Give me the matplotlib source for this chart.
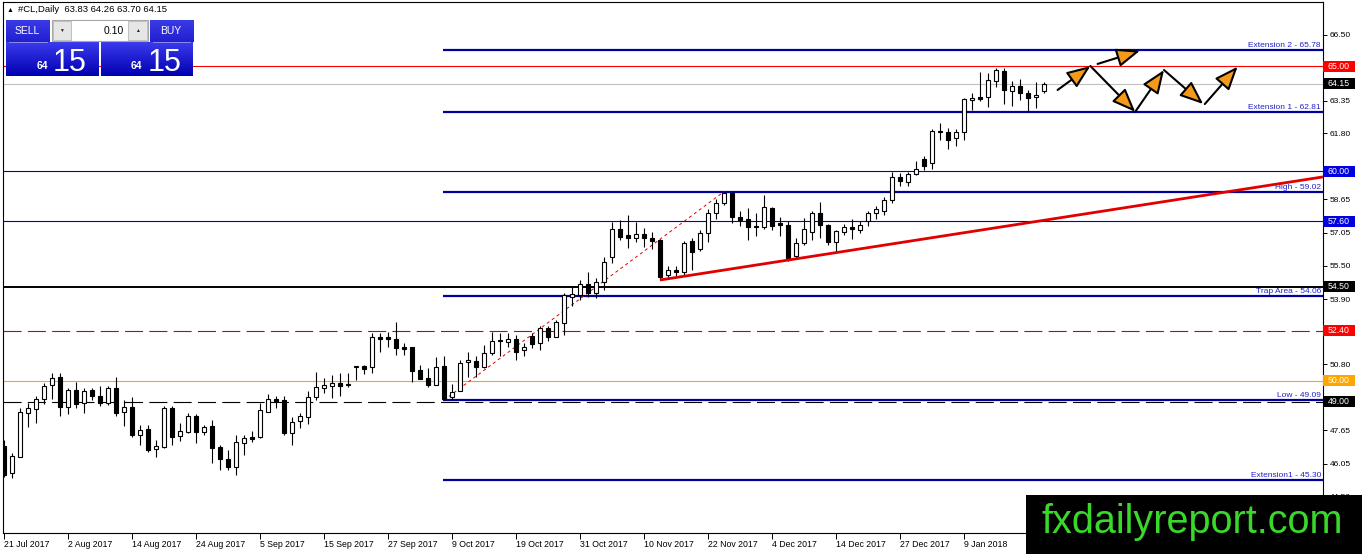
import numpy as np
import matplotlib
matplotlib.use('Agg')
import matplotlib.pyplot as plt
import matplotlib.transforms as mtransforms
from matplotlib.patches import Rectangle, FancyArrowPatch
from matplotlib.colors import LinearSegmentedColormap

plt.rcParams['font.family'] = ['Liberation Sans', 'DejaVu Sans']
plt.rcParams['lines.scale_dashes'] = False

# daily candles for #CL, 21 Jul 2017 .. 17 Jan 2018
opens = [46.90, 45.60, 46.40, 48.48, 48.67, 49.14, 49.81, 50.20, 48.76, 49.57,
         48.95, 49.57, 49.29, 48.95, 49.67, 48.52, 48.76, 47.43, 47.71, 46.76,
         46.86, 48.71, 47.40, 47.59, 48.33, 47.56, 47.86, 46.87, 46.29, 45.92,
         47.03, 47.35, 47.35, 48.54, 49.16, 49.10, 47.54, 48.10, 48.30, 49.25,
         49.65, 49.78, 49.92, 49.85, 50.65, 50.71, 50.65, 52.08, 52.08, 52.00,
         51.64, 51.64, 50.52, 50.13, 49.81, 50.71, 49.22, 49.54, 50.89, 50.97,
         50.68, 51.32, 51.90, 51.86, 52.00, 51.48, 52.14, 51.83, 52.51, 52.11,
         52.75, 54.02, 54.10, 54.60, 54.21, 54.70, 55.92, 57.22, 56.95, 56.80,
         57.00, 56.83, 56.71, 55.05, 55.29, 55.20, 56.68, 56.29, 57.06, 58.00,
         58.46, 58.97, 57.80, 57.70, 57.33, 57.35, 58.22, 57.51, 57.43, 55.95,
         56.59, 57.11, 57.98, 57.43, 56.63, 57.11, 57.32, 57.19, 57.63, 57.98,
         58.10, 58.60, 59.73, 59.46, 59.86, 60.56, 60.37, 61.85, 61.84, 61.56,
         61.84, 63.38, 63.52, 63.51, 64.30, 64.76, 63.83, 64.05, 63.70, 63.51,
         63.83]
highs = [47.19, 46.57, 48.71, 48.95, 49.30, 49.90, 50.38, 50.38, 49.67, 49.97,
         49.67, 49.67, 49.76, 49.75, 50.20, 49.10, 49.24, 47.90, 47.90, 47.20,
         48.80, 48.80, 48.00, 48.47, 48.43, 47.90, 48.14, 46.95, 46.71, 47.43,
         47.43, 47.60, 48.94, 49.38, 49.30, 49.29, 48.29, 48.48, 49.50, 50.44,
         50.16, 50.30, 50.40, 50.40, 50.72, 50.76, 52.27, 52.27, 52.35, 52.82,
         51.80, 51.64, 50.75, 50.60, 51.16, 51.20, 49.85, 51.00, 51.40, 51.20,
         51.71, 52.35, 52.30, 52.30, 52.20, 51.80, 52.30, 52.60, 52.60, 52.90,
         54.20, 54.46, 54.81, 55.20, 54.90, 55.90, 57.59, 57.65, 57.90, 57.55,
         57.30, 57.10, 56.75, 55.50, 55.50, 56.65, 56.80, 57.20, 58.20, 58.65,
         59.02, 59.02, 58.10, 58.25, 58.00, 58.86, 58.27, 57.80, 57.60, 56.80,
         57.75, 58.10, 58.54, 57.50, 57.20, 57.50, 57.70, 57.60, 58.10, 58.35,
         58.75, 59.97, 59.90, 59.97, 60.48, 60.70, 62.00, 62.30, 62.06, 62.00,
         63.50, 63.70, 64.73, 64.65, 64.89, 64.90, 64.30, 64.40, 63.85, 64.25,
         64.26]
lows = [45.44, 45.38, 46.40, 47.81, 48.00, 48.90, 49.14, 48.33, 48.43, 48.70,
        48.48, 49.10, 48.81, 48.85, 48.33, 47.86, 47.33, 46.95, 46.60, 46.40,
        46.80, 46.95, 47.16, 47.50, 47.03, 47.45, 46.11, 45.76, 45.76, 45.52,
        46.48, 47.10, 47.30, 48.50, 48.70, 47.45, 46.95, 47.76, 47.95, 49.10,
        49.43, 49.20, 49.30, 49.70, 50.05, 50.33, 50.37, 51.40, 51.60, 51.24,
        51.24, 49.97, 50.10, 49.70, 49.81, 49.09, 49.10, 49.54, 50.20, 50.20,
        50.60, 51.25, 51.20, 51.60, 51.00, 51.20, 51.55, 51.48, 51.90, 52.10,
        52.19, 53.57, 53.86, 54.00, 53.95, 54.33, 55.60, 56.70, 56.32, 56.60,
        56.40, 56.30, 54.81, 54.90, 55.00, 55.05, 55.29, 56.20, 56.60, 57.70,
        58.40, 57.51, 57.40, 56.71, 56.90, 57.24, 57.20, 56.90, 55.70, 55.80,
        56.50, 56.70, 56.80, 56.50, 56.08, 56.95, 56.75, 57.05, 57.40, 57.70,
        57.90, 58.50, 59.30, 59.30, 59.80, 60.05, 60.10, 61.50, 61.05, 61.20,
        61.50, 62.90, 63.35, 63.06, 64.00, 63.20, 63.10, 63.40, 62.86, 63.00,
        63.70]
closes = [45.52, 46.44, 48.54, 48.71, 49.14, 49.76, 50.14, 48.75, 49.57, 48.90,
          49.52, 49.29, 48.95, 49.67, 48.48, 48.76, 47.43, 47.67, 46.71, 46.90,
          48.71, 47.33, 47.62, 48.33, 47.59, 47.83, 46.80, 46.27, 45.92, 47.08,
          47.30, 47.25, 48.62, 49.13, 49.06, 47.51, 48.06, 48.33, 49.25, 49.70,
          49.80, 49.92, 49.78, 49.80, 50.70, 50.57, 52.08, 52.00, 52.00, 51.56,
          51.52, 50.49, 50.10, 49.81, 50.68, 49.13, 49.49, 50.87, 51.00, 50.68,
          51.35, 51.90, 51.95, 52.00, 51.40, 51.64, 51.76, 52.54, 52.11, 52.79,
          54.10, 54.13, 54.60, 54.20, 54.73, 55.68, 57.22, 56.87, 56.79, 57.00,
          56.83, 56.68, 54.94, 55.29, 55.20, 56.58, 56.16, 57.06, 57.98, 58.50,
          58.97, 57.80, 57.67, 57.35, 57.37, 58.27, 57.40, 57.43, 55.84, 56.56,
          57.22, 57.98, 57.43, 56.63, 57.14, 57.32, 57.24, 57.43, 57.98, 58.17,
          58.60, 59.73, 59.52, 59.86, 60.08, 60.25, 61.90, 61.89, 61.48, 61.84,
          63.41, 63.49, 63.43, 64.33, 64.81, 63.86, 64.05, 63.70, 63.49, 63.62,
          64.15]

date_labels = ['21 Jul 2017', '2 Aug 2017', '14 Aug 2017', '24 Aug 2017',
               '5 Sep 2017', '15 Sep 2017', '27 Sep 2017', '9 Oct 2017',
               '19 Oct 2017', '31 Oct 2017', '10 Nov 2017', '22 Nov 2017',
               '4 Dec 2017', '14 Dec 2017', '27 Dec 2017', '9 Jan 2018']
bars_per_label = 8

price_ticks = [66.50, 64.95, 63.35, 61.80, 60.20, 58.65, 57.05, 55.50,
               53.90, 52.35, 50.80, 49.20, 47.65, 46.05, 44.50]

# horizontal price levels
level_prices = [65.00, 64.15, 60.00, 57.60, 54.50, 52.40, 50.00, 49.00]
level_line_colors = ['#ff0000', '#c0c0c0', '#0000c8', '#0000c8',
                     '#000000', '#d00000', '#ffa500', '#000000']
level_box_colors = ['#ff0000', '#000000', '#0000e0', '#0000e0',
                    '#000000', '#ff0000', '#ffa500', '#000000']
level_dashed = [False, False, False, False, False, True, False, True]
level_widths = [0.8, 0.8, 0.8, 0.8, 1.4, 0.8, 0.8, 0.8]

# fibonacci levels (start at the swing low bar)
fib_names = ['Extension 2', 'Extension 1', 'High', 'Trap Area', 'Low', 'Extension1']
fib_prices = [65.78, 62.81, 59.02, 54.06, 49.09, 45.30]
fib_start = 55
fib_high_bar = 90

# rising trendline (bar, price)
trend_x = [82, 164.875]
trend_y = [54.81, 59.72]

# projected path arrows (bar, price)
arrow_from = [(131.7, 63.86), (136.7, 65.10), (135.8, 65.00),
              (141.4, 62.82), (145.0, 64.81), (150.1, 63.19)]
arrow_to = [(135.8, 65.00), (142.0, 65.73), (141.4, 62.82),
            (145.0, 64.81), (149.9, 63.19), (154.2, 64.97)]

W, H = 1362, 554
fig = plt.figure(figsize=(W / 100, H / 100), dpi=100)
fig.patch.set_facecolor('white')

ax_l, ax_r, ax_t, ax_b = 3, 1323, 2, 533
ax = fig.add_axes([ax_l / W, (H - ax_b) / H, (ax_r - ax_l) / W, (ax_b - ax_t) / H])
xmax = 164.875
ax.set_xlim(-0.125, xmax)
ax.set_ylim(42.76, 68.05)

# levels
for p, lc, dsh, lw in zip(level_prices, level_line_colors, level_dashed, level_widths):
    if dsh:
        ax.axhline(p, color=lc, lw=lw, dashes=(13, 4.5), zorder=1)
    else:
        ax.axhline(p, color=lc, lw=lw, zorder=1)

# fibo lines
for name, p in zip(fib_names, fib_prices):
    ax.hlines(p, fib_start - 0.1, xmax, color='#00009c', lw=1.6, zorder=2)
    ax.annotate(f'{name} - {p:.2f}', xy=(xmax, p), xytext=(-1.5, 0.5),
                textcoords='offset points', ha='right', va='bottom',
                fontsize=6, color='#2222cc', zorder=2)

# dotted fibo swing line
ax.plot([fib_start, fib_high_bar], [lows[fib_start], highs[fib_high_bar]],
        color='#e00000', lw=0.7, dashes=(2.2, 2.2), zorder=2)

# candles
o = np.array(opens)
h = np.array(highs)
l = np.array(lows)
c = np.array(closes)
x = np.arange(len(o))
up = c >= o
ax.vlines(x, l, h, color='black', lw=0.8, zorder=3)
bottom = np.minimum(o, c)
height = np.maximum(np.abs(c - o), 0.04)
ax.bar(x[up], height[up], bottom=bottom[up], width=0.62, color='white',
       edgecolor='black', lw=0.8, zorder=4)
ax.bar(x[~up], height[~up], bottom=bottom[~up], width=0.62, color='black',
       edgecolor='black', lw=0.8, zorder=4)

# trendline
ax.plot(trend_x, trend_y, color='#e00000', lw=2, zorder=5, solid_capstyle='butt')

# arrows
for a, b in zip(arrow_from, arrow_to):
    arr = FancyArrowPatch(a, b, arrowstyle='-|>,head_length=0.8,head_width=0.32',
                          mutation_scale=18, lw=1.5, edgecolor='black',
                          facecolor='#f39a1a', zorder=6, shrinkA=0, shrinkB=0)
    ax.add_patch(arr)

# axes style
for s in ax.spines.values():
    s.set_color('black')
    s.set_linewidth(0.8)
ax.yaxis.tick_right()
ax.set_yticks(price_ticks)
# labels that sit under a price box are not shown on the terminal
tick_text = []
for v in price_ticks:
    hidden = any(abs(v - p) < 0.3 for p in level_prices)
    tick_text.append('' if hidden else f'{v:.2f}')
ax.set_yticklabels(tick_text)
ax.tick_params(axis='y', direction='out', length=3, width=0.7, pad=2, labelsize=6)
xt = [i * bars_per_label for i in range(len(date_labels))]
ax.set_xticks(xt)
ax.set_xticklabels(date_labels)
ax.tick_params(axis='x', direction='out', length=4, width=0.7, pad=1, labelsize=6.3)
for lab in ax.get_xticklabels():
    lab.set_ha('left')

# price boxes on the right scale
blend = mtransforms.blended_transform_factory(ax.transAxes, ax.transData)
box_w = 32 / (ax_r - ax_l)
box_h = 11 / 21.0
for p, bc in zip(level_prices, level_box_colors):
    ax.add_patch(Rectangle((1.0, p - box_h / 2), box_w, box_h, transform=blend,
                           facecolor=bc, edgecolor='none', clip_on=False, zorder=10))
    ax.text(1.0 + box_w / 2, p, f'{p:.2f}', transform=blend, ha='center',
            va='center', fontsize=6.3, color='white', clip_on=False, zorder=11)

# overlay in pixel coordinates
ov = fig.add_axes([0, 0, 1, 1], zorder=20)
ov.patch.set_alpha(0)
ov.axis('off')

grad = np.linspace(0, 1, 64).reshape(-1, 1)
btn = LinearSegmentedColormap.from_list('btn', ['#3b3bee', '#0000b0'])
top = LinearSegmentedColormap.from_list('top', ['#3a3ae8', '#2020d0'])
for x0, x1 in [(6, 99), (101, 193)]:
    ov.imshow(grad, cmap=btn, extent=[x0, x1, 76, 42], aspect='auto', zorder=1)
for x0, x1 in [(6, 49.5), (149.5, 193)]:
    ov.imshow(grad, cmap=top, extent=[x0, x1, 42, 20.5], aspect='auto', zorder=1)
    ov.plot([x0 + 3, x1 - 3], [41.5, 41.5], color='#8c8cf0', lw=0.7, zorder=2)

# lot size spinner
ov.add_patch(Rectangle((51.5, 19.5), 96.5, 21, facecolor='white',
                       edgecolor='#a8a8a8', lw=0.8, zorder=2))
ov.add_patch(Rectangle((52.5, 20.5), 18.5, 19, facecolor='#e6e6e6',
                       edgecolor='#b8b8b8', lw=0.6, zorder=3))
ov.add_patch(Rectangle((128, 20.5), 19, 19, facecolor='#e6e6e6',
                       edgecolor='#b8b8b8', lw=0.6, zorder=3))
ov.text(61.5, 30, '▼', fontsize=3.5, ha='center', va='center', color='#202020', zorder=4)
ov.text(137.5, 30, '▲', fontsize=3.5, ha='center', va='center', color='#202020', zorder=4)
ov.text(124, 30.5, '0.10', fontsize=7.5, ha='right', va='center', color='black', zorder=4)

ov.text(27.5, 31, 'SELL', fontsize=7.5, ha='center', va='center', color='white', zorder=4)
ov.text(171, 31, 'BUY', fontsize=7.5, ha='center', va='center', color='white', zorder=4)
for x_small, x_big in [(42, 70), (136, 165)]:
    ov.text(x_small, 66, '64', fontsize=7.5, fontweight='bold', ha='center',
            va='center', color='white', zorder=4)
    ov.text(x_big, 71, '15', fontsize=22, ha='center', va='baseline',
            color='white', zorder=4)

# header
ov.text(10.5, 10, '▲', fontsize=5, ha='center', va='center', color='black')
ov.text(18, 10, '#CL,Daily  63.83 64.26 63.70 64.15', fontsize=6.8,
        ha='left', va='center', color='black')

# watermark
ov.add_patch(Rectangle((1026, 495), 336, 59, facecolor='black', edgecolor='none', zorder=5))
ov.text(1042, 533, 'fxdailyreport.com', fontsize=28.5, color='#3ad82a',
        ha='left', va='baseline', zorder=6)

ov.set_xlim(0, W)
ov.set_ylim(H, 0)

fig.savefig('out.png', dpi=100)
